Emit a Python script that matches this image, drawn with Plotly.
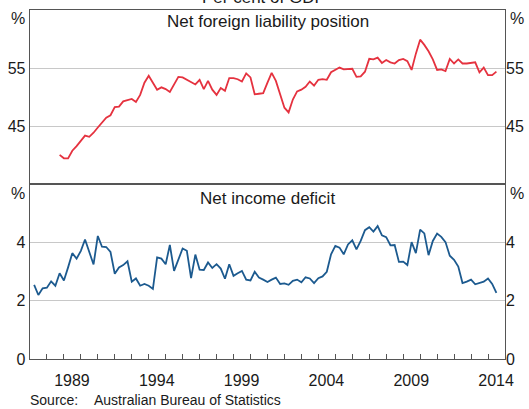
import plotly.graph_objects as go
import pandas as pd

# ---- data (quarterly, per cent of GDP) ----
nfl_start = "1988Q3"
nfl_values = [40.1, 39.5, 39.5, 40.8, 41.6, 42.5, 43.4, 43.2, 43.9, 44.8,
              45.6, 46.5, 46.9, 48.3, 48.4, 49.3, 49.5, 49.7, 49.2, 50.4,
              52.5, 53.7, 52.5, 51.3, 51.7, 51.4, 50.9, 52.1, 53.5, 53.4,
              53.0, 52.7, 52.2, 53.0, 51.4, 52.8, 51.3, 50.4, 51.6, 51.1,
              53.3, 53.3, 53.1, 52.7, 54.1, 53.4, 50.5, 50.6, 50.7, 52.5,
              54.2, 52.8, 50.5, 48.2, 47.4, 49.6, 51.0, 51.3, 51.8, 52.7,
              52.0, 53.0, 53.1, 53.0, 54.3, 54.7, 55.1, 54.8, 54.8, 54.9,
              53.5, 53.6, 54.4, 56.6, 56.5, 56.8, 55.9, 56.4, 56.0, 55.8,
              56.4, 56.6, 56.2, 54.7, 57.5, 59.9, 59.0, 57.9, 56.5, 54.7,
              54.8, 54.5, 56.6, 55.8, 56.5, 55.8, 55.8, 55.9, 56.0, 54.3,
              55.1, 53.8, 53.8, 54.4]

nid_start = "1987Q1"
nid_values = [2.55, 2.20, 2.43, 2.45, 2.67, 2.52, 2.95, 2.70, 3.15, 3.64,
              3.45, 3.72, 4.11, 3.68, 3.25, 4.23, 3.86, 3.85, 3.68, 2.93,
              3.15, 3.23, 3.36, 2.66, 2.77, 2.52, 2.58, 2.52, 2.41, 3.49,
              3.45, 3.26, 3.92, 3.03, 3.41, 3.80, 3.72, 2.78, 3.59, 3.07,
              3.06, 3.32, 3.13, 3.26, 3.11, 2.76, 3.26, 2.86, 2.95, 3.03,
              2.73, 2.70, 3.00, 2.80, 2.73, 2.65, 2.73, 2.80, 2.58, 2.60,
              2.55, 2.69, 2.73, 2.64, 2.81, 2.77, 2.61, 2.78, 2.84, 3.00,
              3.60, 3.89, 3.83, 3.60, 3.94, 4.08, 3.77, 4.06, 4.43, 4.53,
              4.38, 4.57, 4.25, 4.19, 3.91, 3.92, 3.34, 3.35, 3.23, 4.02,
              3.64, 4.45, 4.32, 3.57, 4.06, 4.31, 4.20, 4.02, 3.55, 3.41,
              3.18, 2.61, 2.66, 2.73, 2.57, 2.61, 2.66, 2.77, 2.58, 2.27]

label_years = [1989, 1994, 1999, 2004, 2009, 2014]
top_ticks = [45, 55]
bottom_ticks = [0, 2, 4]
top_range = [35, 65]
bottom_range = [0, 6]
x_start, x_end = 1987, 2015

nfl_dates = pd.period_range(nfl_start, periods=len(nfl_values), freq="Q").to_timestamp(how="end").normalize()
nid_dates = pd.period_range(nid_start, periods=len(nid_values), freq="Q").to_timestamp(how="end").normalize()

tick_years = list(range(x_start + 1, x_end))
tick_text = [str(y) if y in label_years else "" for y in tick_years]

# ---- styling ----
FONT = "Arial, Liberation Sans, sans-serif"
TXT = "#1a1a1a"
AXC = "#555555"
GRID = "#c8c8c8"
RED = "#e5323f"
BLUE = "#1c5a8f"
CLEAR = dict(color="rgba(0,0,0,0)", width=0)

fig = go.Figure()
fig.add_trace(go.Scatter(x=nfl_dates, y=nfl_values, mode="lines",
                         line=dict(color=RED, width=1.8), xaxis="x", yaxis="y",
                         showlegend=False, name="Net foreign liability position"))
fig.add_trace(go.Scatter(x=nid_dates, y=nid_values, mode="lines",
                         line=dict(color=BLUE, width=1.8), xaxis="x2", yaxis="y2",
                         showlegend=False, name="Net income deficit"))
# invisible copies to carry the right-hand label axes
fig.add_trace(go.Scatter(x=nfl_dates, y=nfl_values, mode="lines", line=CLEAR,
                         xaxis="x", yaxis="y3", showlegend=False, hoverinfo="skip"))
fig.add_trace(go.Scatter(x=nid_dates, y=nid_values, mode="lines", line=CLEAR,
                         xaxis="x2", yaxis="y4", showlegend=False, hoverinfo="skip"))

xr = [f"{x_start}-01-01", f"{x_end}-01-01"]
tickfont = dict(family=FONT, size=16, color=TXT)
common_axis = dict(showline=True, linecolor=AXC, linewidth=1.3, zeroline=False,
                   tickfont=tickfont, automargin=False)

fig.update_layout(
    template="none",
    width=529, height=409,
    margin=dict(l=30, r=24, t=10, b=50, autoexpand=False),
    paper_bgcolor="white", plot_bgcolor="white",
    font=dict(family=FONT, color=TXT),
    xaxis=dict(domain=[0, 1], anchor="y", side="top", range=xr, type="date",
               showticklabels=False, ticks="", showgrid=False, mirror=False,
               showline=True, linecolor=AXC, linewidth=1.3, zeroline=False,
               automargin=False),
    xaxis2=dict(domain=[0, 1], anchor="y2", range=xr, type="date",
                tickmode="array",
                tickvals=[f"{y}-01-01" for y in tick_years],
                ticktext=tick_text,
                ticks="inside", ticklen=5, tickwidth=1, tickcolor=AXC,
                ticklabelshift=8, ticklabelstandoff=6,
                showgrid=False, mirror=True,
                **common_axis),
    yaxis=dict(domain=[0.5, 1], anchor="x", range=top_range, tickvals=top_ticks,
               ticks="", showgrid=True, gridcolor=GRID, gridwidth=1, mirror=True,
               **common_axis),
    yaxis2=dict(domain=[0, 0.5], anchor="x2", range=bottom_range, tickvals=bottom_ticks,
                ticks="", showgrid=True, gridcolor=GRID, gridwidth=1, mirror=True,
                **common_axis),
    yaxis3=dict(overlaying="y", side="right", anchor="x", range=top_range,
                tickvals=top_ticks, ticks="", showgrid=False, showline=False,
                zeroline=False, tickfont=tickfont, automargin=False),
    yaxis4=dict(overlaying="y2", side="right", anchor="x2", range=bottom_range,
                tickvals=bottom_ticks, ticks="", showgrid=False, showline=False,
                zeroline=False, tickfont=tickfont, automargin=False),
)

def px_x(p):
    return (p - 30) / 475.0

def px_y(p):
    return (359.5 - p) / 349.5

ann = []
ann.append(dict(text="Per cent of GDP", x=px_x(264), y=px_y(-3), xanchor="center",
                yanchor="middle", font=dict(size=17)))
ann.append(dict(text="Net foreign liability position", x=0.5, y=px_y(22),
                xanchor="center", yanchor="middle", font=dict(size=17)))
ann.append(dict(text="Net income deficit", x=0.5, y=px_y(199),
                xanchor="center", yanchor="middle", font=dict(size=17)))
for yy in (18.5, 193.5):
    ann.append(dict(text="%", x=px_x(27), y=px_y(yy), xanchor="right",
                    yanchor="middle", font=dict(size=16)))
    ann.append(dict(text="%", x=px_x(508), y=px_y(yy), xanchor="left",
                    yanchor="middle", font=dict(size=16)))
ann.append(dict(text="Source:", x=px_x(28), y=px_y(401), xanchor="left",
                yanchor="middle", font=dict(size=14)))
ann.append(dict(text="Australian Bureau of Statistics", x=px_x(92), y=px_y(401),
                xanchor="left", yanchor="middle", font=dict(size=14)))
for a in ann:
    a.update(xref="paper", yref="paper", showarrow=False)
    a["font"].update(family=FONT, color=TXT)
fig.update_layout(annotations=ann)

fig.write_html("out.html",
               config={"displayModeBar": False, "staticPlot": True},
               post_script="document.body.style.margin='0';document.body.style.overflow='hidden';")
